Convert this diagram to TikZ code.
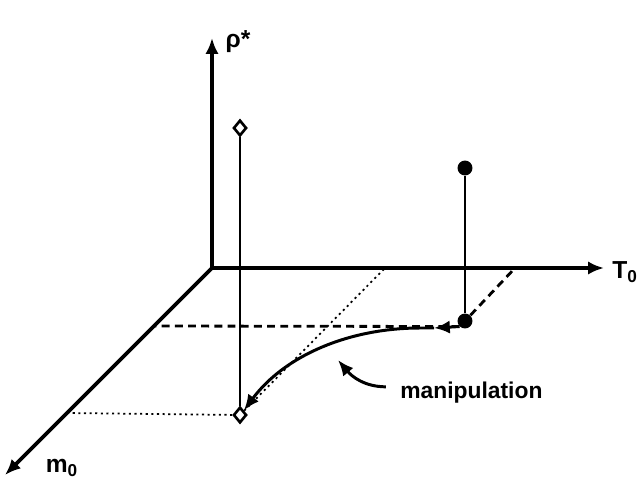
\documentclass[tikz,border=0pt]{standalone}
\usepackage{fontspec}
\setmainfont{Liberation Sans}
\usetikzlibrary{arrows.meta, shapes.geometric, positioning}

\begin{document}
\begin{tikzpicture}[
    x=0.02cm, y=-0.02cm,
    >={Latex[length=9pt, width=7.5pt]},
    axis/.style={->, line width=2.1pt},
    stem/.style={line width=1.4pt},
    guide/.style={line width=1.6pt, dash pattern=on 4.5pt off 3pt},
    trace/.style={line width=1pt, dash pattern=on 1.2pt off 2pt},
    path/.style={line width=1.7pt},
    lbl/.style={font=\fontsize{14}{16}\selectfont\bfseries, inner sep=1pt},
    opendot/.style={diamond, draw, fill=white, line width=1.5pt, inner sep=0pt,
        minimum width=7.5pt, minimum height=9pt},
    fulldot/.style={circle, fill, inner sep=0pt, minimum size=8.5pt}
]
    \useasboundingbox (0,0) rectangle (641,482);

    % axes
    \coordinate (O) at (212,268);
    \coordinate (rtip) at (212,38);
    \coordinate (ttip) at (604,268);
    \coordinate (mtip) at (5,475);
    \draw[axis] (O) -- (rtip);
    \draw[axis] (O) -- (ttip);
    \draw[axis] (O) -- (mtip);
    \node[lbl] (rho) at (238,42) {ρ*};
    \node[lbl] (tzero) at (625,272) {T\textsubscript{0}};
    \node[lbl] (mzero) at (62,468) {m\textsubscript{0}};

    % projections
    \coordinate (pm) at (67,413);
    \coordinate (pt) at (385,268);
    \coordinate (qm) at (154,326);
    \coordinate (qt) at (515,268);

    \node[fulldot] (qtop) at (465,168) {};
    \node[fulldot] (qbot) at (465,321) {};
    \draw[stem] (qtop) -- (qbot);
    \draw[guide] (qbot) -- (qt);
    \draw[guide] (qbot.south west) -- (qm);

    \node[opendot] (ptop) at (240,128) {};
    \node[opendot] (pbot) at (240,415) {};
    \draw[stem] (ptop) -- (pbot);
    \draw[trace] (pbot) -- (pm);
    \draw[trace] (pbot) -- (pt);

    % manipulation path
    \coordinate (mid) at (434,328);
    \draw[path, ->] (qbot.south west) -- (mid);
    \draw[path, ->] (mid) -- (420,328) .. controls (350,328) and (285,355) .. (pbot.north east);

    \node[font=\fontsize{13}{15}\selectfont\bfseries, anchor=base west, inner sep=0pt] (manip) at (400,398) {manipulation};
    \coordinate (mpoint) at (338,360);
    \draw[path, ->] ([xshift=-8pt, yshift=3pt]manip.west) to[out=180, in=-50] (mpoint);
\end{tikzpicture}
\end{document}
